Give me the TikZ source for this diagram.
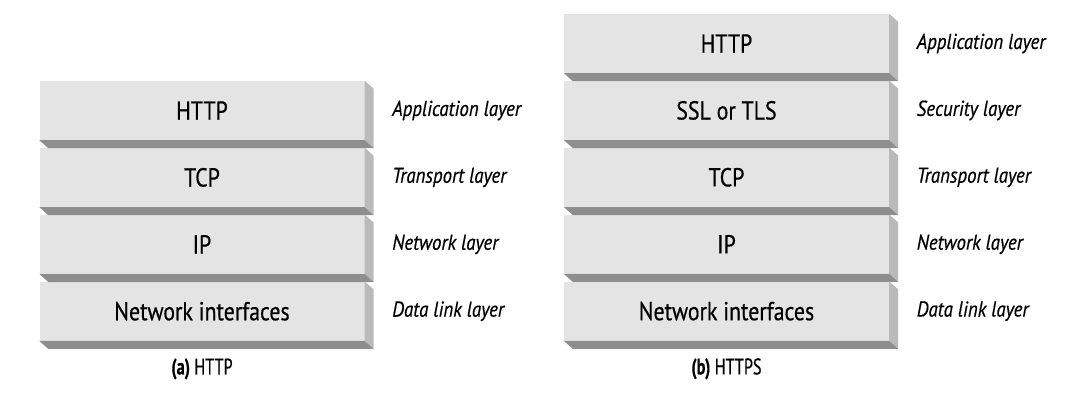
\documentclass[tikz,border=0pt]{standalone}
\usepackage{fontspec}
\setmainfont{PT Sans}
\newfontfamily\protofont{PT Sans}[FakeStretch=0.84, FakeBold=0.5]
\newfontfamily\layerfont{PT Sans}[FakeStretch=0.88, FakeBold=0.5]
\newfontfamily\capfont{PT Sans}[FakeStretch=0.72, FakeBold=0.4]
\usetikzlibrary{positioning}
\definecolor{frontgray}{HTML}{E4E4E4}
\definecolor{sidegray}{HTML}{BABABA}
\definecolor{basegray}{HTML}{8E8E8E}
\tikzstyle{proto} = [rectangle, minimum width=325pt, minimum height=59pt, inner sep=0pt, fill=frontgray, text=black, font=\protofont\fontsize{26}{29}\selectfont]
\tikzstyle{layername} = [font=\layerfont\fontsize{21.5}{24}\selectfont\itshape, text=black]
\tikzstyle{caption} = [font=\capfont\fontsize{22.5}{26}\selectfont, text=black]

\begin{document}
\begin{tikzpicture}[x=1pt, y=-1pt]
\useasboundingbox (0,0) rectangle (1080,400);

% (a) HTTP stack
\node (ahttp) [proto] at (202,110.5) {HTTP};
\node (atcp) [proto, below=7.5pt of ahttp] {TCP};
\node (aip) [proto, below=7.5pt of atcp] {IP};
\node (anet) [proto, below=7.5pt of aip] {Network interfaces};

\node (aapp) [layername, right=24pt of ahttp] {Application layer};
\node (atrans) [layername, right=24pt of atcp] {Transport layer};
\node (anetw) [layername, right=24pt of aip] {Network layer};
\node (alink) [layername, right=24pt of anet] {Data link layer};

\node (acap) [caption, below=14pt of anet] {\textbf{(a)} HTTP};

% (b) HTTPS stack
\node (bhttp) [proto] at (726.5,43.5) {HTTP};
\node (bssl) [proto, below=7.5pt of bhttp] {SSL or TLS};
\node (btcp) [proto, below=7.5pt of bssl] {TCP};
\node (bip) [proto, below=7.5pt of btcp] {IP};
\node (bnet) [proto, below=7.5pt of bip] {Network interfaces};

\node (bapp) [layername, right=24pt of bhttp] {Application layer};
\node (bsec) [layername, right=24pt of bssl] {Security layer};
\node (btrans) [layername, right=24pt of btcp] {Transport layer};
\node (bnetw) [layername, right=24pt of bip] {Network layer};
\node (blink) [layername, right=24pt of bnet] {Data link layer};

\node (bcap) [caption, below=14pt of bnet] {\textbf{(b)} HTTPS};

% 3d side and bottom faces
\foreach \n in {ahttp,atcp,aip,anet,bhttp,bssl,btcp,bip,bnet} {
  \fill[sidegray] (\n.north east) -- ++(9,8) -- ([shift={(9,8)}]\n.south east) -- (\n.south east) -- cycle;
  \fill[basegray] (\n.south west) -- (\n.south east) -- ([shift={(9,8)}]\n.south east) -- ([shift={(9,8)}]\n.south west) -- cycle;
}

\end{tikzpicture}
\end{document}
